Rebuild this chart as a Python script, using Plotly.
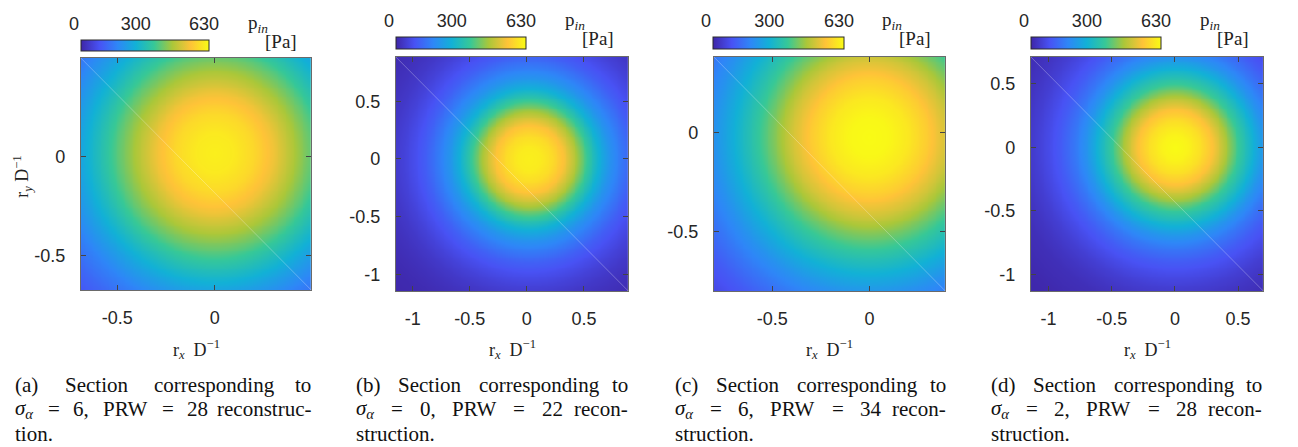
import numpy as np
import plotly.graph_objects as go

W, H = 1298, 447

# ---------------- data ----------------
# radial pressure profiles p_in [Pa] versus radius r/D
radii = [0.0, 0.1, 0.2, 0.3, 0.4, 0.5, 0.6, 0.7, 0.8, 0.9, 1.0, 1.1, 1.2, 1.3, 1.4, 1.5, 1.6, 1.7]
p_a = [611, 602, 574, 526, 457, 387, 309, 236, 172, 126, 92, 66, 47, 32, 19, 13, 6, 0]
p_b = [611, 605, 580, 536, 460, 365, 277, 208, 158, 113, 82, 57, 38, 25, 16, 9, 6, 0]
p_c = [630, 624, 599, 554, 491, 410, 334, 265, 202, 151, 107, 76, 50, 32, 19, 13, 6, 0]
p_d = [630, 617, 586, 536, 454, 359, 284, 208, 151, 107, 76, 50, 32, 19, 13, 6, 3, 0]
profiles = [p_a, p_b, p_c, p_d]

# centre of the pressure field (r_x D^-1, r_y D^-1)
centre_x = [0.0, 0.02, 0.0, 0.0]
centre_y = [0.02, 0.0, -0.02, 0.0]

# axis extents
x_ranges = [[-0.687, 0.495], [-1.147, 0.888], [-0.80, 0.39], [-1.14, 0.70]]
y_ranges = [[-0.672, 0.498], [-1.143, 0.883], [-0.80, 0.384], [-1.13, 0.71]]
x_ticks = [[-0.5, 0], [-1, -0.5, 0, 0.5], [-0.5, 0], [-1, -0.5, 0, 0.5]]
y_ticks = [[-0.5, 0], [-1, -0.5, 0, 0.5], [-0.5, 0], [-1, -0.5, 0, 0.5]]
tick_text = {-1: "-1", -0.5: "-0.5", 0: "0", 0.5: "0.5"}

c_min, c_max = 0, 630
cbar_ticks = [0, 300, 630]

# captions: (letter, sigma_alpha, PRW)
cap_letter = ["a", "b", "c", "d"]
cap_sigma = [6, 0, 6, 2]
cap_prw = [28, 22, 34, 28]

# ---------------- layout geometry (pixels) ----------------
plot_box = [(77, 311, 58, 290), (397, 633, 57, 291), (720, 955, 57, 291), (1042, 1278, 57, 291)]
cbar_box = [(77, 205, 40, 51), (397, 527, 37, 49), (719, 850, 37, 49), (1042, 1172, 37, 49)]
caption_x = [(8, 313), (354, 635), (678, 958), (999, 1279)]
caption_y = [385, 409, 434]
CAP_SIZE = 21

parula = [
    [0 / 7, "rgb(62,38,168)"],
    [1 / 7, "rgb(72,82,244)"],
    [2 / 7, "rgb(46,135,247)"],
    [3 / 7, "rgb(18,177,214)"],
    [4 / 7, "rgb(55,200,151)"],
    [5 / 7, "rgb(171,199,57)"],
    [6 / 7, "rgb(254,195,56)"],
    [7 / 7, "rgb(249,251,21)"],
]

# Times / Liberation Serif advance widths (em) for justification
TW = {"(": .333, ")": .333, "a": .444, "b": .5, "c": .444, "d": .5, "e": .444, "g": .5,
      "i": .278, "n": .5, "o": .5, "p": .5, "r": .333, "s": .389, "t": .278, "u": .5,
      "S": .556, "P": .556, "R": .667, "W": .944, "=": .564, ",": .25, ".": .25, "-": .333}


def tok_width(tok):
    if tok == "σα":
        return (0.55 + 0.36) * CAP_SIZE
    return sum(TW.get(ch, 0.5) for ch in tok) * CAP_SIZE


def fx(px):
    return px / W


def fy(py):
    return 1 - py / H


SANS = "Liberation Sans, Arial, sans-serif"
SERIF = "Liberation Serif, Times New Roman, serif"

fig = go.Figure()
layout = dict(
    width=W, height=H, margin=dict(l=0, r=0, t=0, b=0),
    paper_bgcolor="white", plot_bgcolor="white", showlegend=False,
)
annotations = []
shapes = []

for i in range(4):
    n = i + 1
    sx = "" if n == 1 else str(n)
    xr, yr = x_ranges[i], y_ranges[i]
    xs = np.linspace(xr[0], xr[1], 260)
    ys = np.linspace(yr[0], yr[1], 260)
    X, Y = np.meshgrid(xs, ys)
    R = np.hypot(X - centre_x[i], Y - centre_y[i])
    Z = np.interp(R, radii, profiles[i])
    cax = "coloraxis" + sx
    fig.add_trace(go.Heatmap(x=xs, y=ys, z=Z, coloraxis=cax, zsmooth="best",
                             xaxis="x" + sx, yaxis="y" + sx, hoverinfo="skip"))

    l, r, t, b = plot_box[i]
    common = dict(showgrid=False, zeroline=False, showline=True, linecolor="#6a6a6a",
                  linewidth=1, mirror="allticks", ticks="inside", ticklen=5,
                  tickcolor="#444444",
                  tickfont=dict(family=SANS, size=18, color="#262626"))
    layout["xaxis" + sx] = dict(common, domain=[fx(l), fx(r)], range=xr, anchor="y" + sx,
                                tickvals=x_ticks[i],
                                ticktext=[tick_text[v] for v in x_ticks[i]],
                                ticklabelstandoff=11)
    layout["yaxis" + sx] = dict(common, domain=[fy(b), fy(t)], range=yr, anchor="x" + sx,
                                tickvals=y_ticks[i],
                                ticktext=[tick_text[v] for v in y_ticks[i]],
                                ticklabelstandoff=11)

    # colour bar
    cl, cr, ct, cb = cbar_box[i]
    layout[cax] = dict(
        cmin=c_min, cmax=c_max, colorscale=parula,
        colorbar=dict(orientation="h", x=fx(cl), xanchor="left", y=fy(ct), yanchor="top",
                      xref="paper", yref="paper",
                      len=cr - cl, lenmode="pixels", thickness=cb - ct, thicknessmode="pixels",
                      xpad=0, ypad=0, outlinewidth=1, outlinecolor="#2a2a2a",
                      showticklabels=False, ticks=""),
    )
    # colour-bar tick labels on an auxiliary axis above the bar
    k = 4 + n
    layout["xaxis%d" % k] = dict(domain=[fx(cl - 7), fx(cr - 3)], range=[c_min, c_max],
                                 anchor="y%d" % k, side="top", tickvals=cbar_ticks,
                                 showgrid=False, zeroline=False, showline=False, ticks="",
                                 ticklabelstandoff=5,
                                 tickfont=dict(family=SANS, size=18, color="#262626"))
    layout["yaxis%d" % k] = dict(domain=[fy(cb), fy(ct)], range=[0, 1], visible=False,
                                 anchor="x%d" % k)
    fig.add_trace(go.Scatter(x=cbar_ticks, y=[0.5] * len(cbar_ticks), mode="markers",
                             marker=dict(opacity=0), xaxis="x%d" % k, yaxis="y%d" % k,
                             hoverinfo="skip"))

    # p_in [Pa] label
    annotations.append(dict(text="p<sub><i>in</i></sub>", x=fx(r - 66), y=fy(ct - 16),
                            xref="paper", yref="paper", xanchor="left", yanchor="middle",
                            showarrow=False, font=dict(family=SERIF, size=19, color="#222")))
    annotations.append(dict(text="[Pa]", x=fx(r - 49), y=fy(ct + 2),
                            xref="paper", yref="paper", xanchor="left", yanchor="middle",
                            showarrow=False, font=dict(family=SERIF, size=19, color="#222")))
    # x axis title
    annotations.append(dict(text="r<sub><i>x</i></sub>  D<sup>−1</sup>", x=fx((l + r) / 2),
                            y=fy(349), xref="paper", yref="paper", xanchor="center",
                            yanchor="middle", showarrow=False,
                            font=dict(family=SERIF, size=18, color="#222")))
    # faint diagonal seam
    shapes.append(dict(type="line", xref="x%s domain" % sx, yref="y%s domain" % sx,
                       x0=0, y0=1, x1=1, y1=0,
                       line=dict(color="rgba(255,255,255,0.28)", width=1)))

    # caption (justified lines)
    last2 = "reconstruc-" if i == 0 else "recon-"
    last3 = "tion." if i == 0 else "struction."
    lines = [
        ["(%s)" % cap_letter[i], "Section", "corresponding", "to"],
        ["σα", "=", "%d," % cap_sigma[i], "PRW", "=", "%d" % cap_prw[i], last2],
        [last3],
    ]
    x0, x1 = caption_x[i]
    for li, toks in enumerate(lines):
        widths = [tok_width(t_) for t_ in toks]
        if len(toks) > 1:
            gap = (x1 - x0 - sum(widths)) / (len(toks) - 1)
        else:
            gap = 0
        pos = x0
        for j, tok in enumerate(toks):
            txt = "<i>σ</i><sub><i>α</i></sub>" if tok == "σα" else tok
            if len(toks) > 1 and j == len(toks) - 1:
                xa, xp = "right", x1
            else:
                xa, xp = "left", pos
            annotations.append(dict(text=txt, x=fx(xp), y=fy(caption_y[li]), xref="paper",
                                    yref="paper", xanchor=xa, yanchor="middle",
                                    showarrow=False,
                                    font=dict(family=SERIF, size=CAP_SIZE, color="#111")))
            pos += widths[j] + gap

# y axis title (first panel only)
annotations.append(dict(text="r<sub><i>y</i></sub> D<sup>−1</sup>", x=fx(18), y=fy(176),
                        xref="paper", yref="paper", textangle=-90, xanchor="center",
                        yanchor="middle", showarrow=False,
                        font=dict(family=SERIF, size=18, color="#222")))

layout["annotations"] = annotations
layout["shapes"] = shapes
fig.update_layout(**layout)
fig.write_html("out.html")
